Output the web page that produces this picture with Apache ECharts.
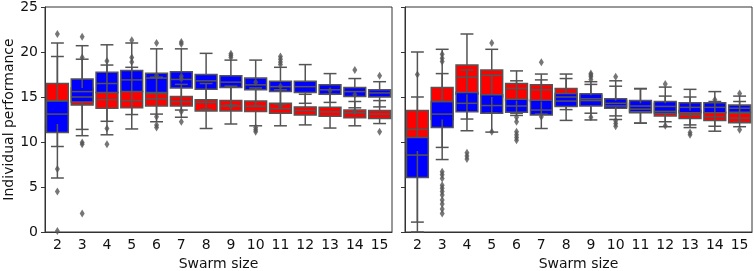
<!DOCTYPE html>
<html>
<head>
<meta charset="utf-8">
<script src="https://cdn.jsdelivr.net/npm/echarts/dist/echarts.min.js"></script>
<style>
    html, body { margin: 0; padding: 0; background: #fff; }
    #chart { width: 754px; height: 271px; }
</style>
</head>
<body>
<div id="chart"></div>
<script>
// swarm sizes on the x axis
const sizes = ['2', '3', '4', '5', '6', '7', '8', '9', '10', '11', '12', '13', '14', '15']

// boxes: [whisker low, Q1, median, Q3, whisker high]
const leftRed = [
    [9.5, 12.0, 14.6, 16.5, 21.0],
    [11.4, 14.1, 15.0, 16.0, 19.2],
    [10.8, 13.75, 14.7, 15.5, 18.55],
    [11.45, 13.8, 14.6, 15.6, 18.3],
    [12.25, 14.0, 14.8, 15.4, 17.2],
    [12.75, 14.0, 14.5, 15.05, 16.4],
    [11.5, 13.45, 14.4, 14.7, 16.5],
    [12.0, 13.45, 14.0, 14.6, 16.2],
    [11.8, 13.4, 13.95, 14.55, 16.0],
    [11.8, 13.2, 13.7, 14.3, 15.8],
    [11.9, 13.0, 13.5, 13.9, 15.3],
    [11.55, 12.85, 13.35, 13.85, 15.3],
    [11.8, 12.7, 13.25, 13.55, 14.5],
    [12.05, 12.6, 13.1, 13.5, 14.6]
]
const leftBlue = [
    [6.0, 11.05, 13.1, 14.55, 19.5],
    [10.7, 14.45, 15.6, 17.0, 20.7],
    [12.3, 15.5, 16.5, 17.75, 20.8],
    [13.05, 15.6, 16.9, 17.95, 21.0],
    [13.1, 15.5, 17.1, 17.65, 20.35],
    [13.55, 16.0, 16.95, 17.8, 20.35],
    [13.6, 15.85, 16.8, 17.5, 19.85],
    [14.1, 16.05, 16.65, 17.35, 19.1],
    [14.0, 15.8, 16.35, 17.1, 19.1],
    [14.2, 15.6, 16.15, 16.75, 18.3],
    [14.3, 15.5, 16.15, 16.75, 18.6],
    [14.4, 15.3, 15.8, 16.35, 17.6],
    [13.8, 15.05, 15.6, 16.05, 17.05],
    [13.9, 15.0, 15.45, 15.8, 16.7]
]
const rightRed = [
    [1.1, 9.0, 11.4, 13.5, 20.0],
    [9.4, 12.5, 14.5, 16.05, 20.3],
    [12.55, 15.3, 17.2, 18.55, 22.0],
    [13.2, 15.0, 17.4, 18.0, 20.3],
    [13.2, 14.6, 15.95, 16.5, 17.9],
    [13.1, 14.5, 15.8, 16.35, 17.55],
    [12.4, 14.0, 15.0, 15.95, 17.55],
    [13.2, 14.1, 14.6, 15.2, 16.4],
    [12.9, 13.9, 14.0, 14.6, 16.2],
    [12.1, 13.25, 13.65, 14.3, 15.9],
    [11.7, 12.9, 13.4, 14.3, 16.1],
    [11.6, 12.6, 13.0, 13.5, 15.0],
    [11.2, 12.4, 12.8, 13.3, 14.5],
    [11.7, 12.15, 12.65, 13.2, 14.5]
]
const rightBlue = [
    [0.0, 6.05, 8.55, 10.5, 15.0],
    [8.05, 11.6, 13.1, 14.5, 17.6],
    [11.25, 13.35, 14.3, 15.5, 18.0],
    [11.1, 13.2, 14.05, 15.25, 17.4],
    [12.95, 13.3, 14.0, 14.75, 16.8],
    [11.5, 13.0, 13.55, 14.65, 16.9],
    [13.6, 13.95, 14.55, 15.4, 17.05],
    [12.45, 14.0, 14.8, 15.35, 16.7],
    [12.5, 13.75, 14.3, 14.8, 16.8],
    [12.1, 13.35, 14.0, 14.6, 15.95],
    [12.25, 13.2, 13.95, 14.5, 15.1],
    [11.9, 13.25, 13.85, 14.35, 15.85],
    [11.75, 13.25, 13.85, 14.35, 15.6],
    [12.2, 13.3, 13.75, 14.1, 15.1]
]

// outliers: [swarm size, value]
const leftOutliers = [
    ['2', 22.0], ['2', 7.0], ['2', 4.5], ['2', 0.1],
    ['3', 21.7], ['3', 19.4], ['3', 9.95], ['3', 9.75], ['3', 2.05],
    ['4', 19.0], ['4', 11.5], ['4', 9.75],
    ['5', 21.3], ['5', 19.4], ['5', 18.9],
    ['6', 21.0], ['6', 17.4], ['6', 12.8], ['6', 11.9], ['6', 11.6],
    ['7', 21.1], ['7', 20.9], ['7', 17.3], ['7', 17.0], ['7', 13.4], ['7', 12.25],
    ['9', 19.8], ['9', 19.6], ['9', 19.4], ['9', 13.95],
    ['10', 16.65], ['10', 11.6], ['10', 11.35], ['10', 11.15],
    ['11', 19.5], ['11', 19.2], ['11', 18.9], ['11', 18.6], ['11', 16.2], ['11', 14.0],
    ['13', 15.7],
    ['14', 18.0], ['14', 15.25], ['14', 13.4],
    ['15', 17.35], ['15', 11.15]
]
const rightOutliers = [
    ['2', 17.5],
    ['3', 19.75], ['3', 19.3], ['3', 18.95], ['3', 6.7], ['3', 6.35], ['3', 5.95], ['3', 5.2],
    ['3', 4.85], ['3', 4.5], ['3', 4.1], ['3', 3.55], ['3', 3.1], ['3', 2.55], ['3', 2.05],
    ['4', 8.8], ['4', 8.45], ['4', 8.1],
    ['5', 21.0], ['5', 11.15],
    ['6', 12.75], ['6', 12.25], ['6', 11.15], ['6', 10.8], ['6', 10.5], ['6', 10.2],
    ['7', 18.85], ['7', 12.8],
    ['9', 17.6], ['9', 17.45], ['9', 17.25], ['9', 16.95], ['9', 12.75],
    ['10', 17.25], ['10', 12.35], ['10', 12.05], ['10', 11.75],
    ['12', 16.45], ['12', 11.8],
    ['13', 11.05], ['13', 10.8],
    ['14', 14.7],
    ['15', 15.4], ['15', 11.35]
]

const yTicks = { min: 0, max: 25, interval: 5 }

const GREY = '#545454'
const RED = '#ff0000'
const BLUE = '#0000ff'
const FONT = 'DejaVu Sans'

const toRows = (boxes) => boxes.map((b, i) => [i, ...b])

const boxShape = (fill) => (params, api) => {
    const i = api.value(0)
    const top = api.coord([i, api.value(4)])
    const bottom = api.coord([i, api.value(2)])
    const w = api.size([1, 0])[0] * 0.88
    return {
        type: 'rect',
        shape: { x: top[0] - w / 2, y: top[1], width: w, height: bottom[1] - top[1] },
        style: { fill: fill, stroke: GREY, lineWidth: 1.5 }
    }
}

const boxLines = (params, api) => {
    const i = api.value(0)
    const band = api.size([1, 0])[0]
    const half = band * 0.44
    const cap = band * 0.26
    const lo = api.coord([i, api.value(1)])
    const q1 = api.coord([i, api.value(2)])
    const med = api.coord([i, api.value(3)])
    const q3 = api.coord([i, api.value(4)])
    const hi = api.coord([i, api.value(5)])
    const x = lo[0]
    const line = (x1, y1, x2, y2) => ({
        type: 'line',
        shape: { x1, y1, x2, y2 },
        style: { stroke: GREY, lineWidth: 1.5 }
    })
    return {
        type: 'group',
        children: [
            line(x, q1[1], x, lo[1]),
            line(x, q3[1], x, hi[1]),
            line(x - cap, lo[1], x + cap, lo[1]),
            line(x - cap, hi[1], x + cap, hi[1]),
            line(x - half, med[1], x + half, med[1])
        ]
    }
}

const boxSeries = (boxes, fill, idx, z) => ({
    type: 'custom',
    xAxisIndex: idx,
    yAxisIndex: idx,
    z: z,
    renderItem: boxShape(fill),
    encode: { x: 0, y: [1, 2, 3, 4, 5] },
    data: toRows(boxes),
    silent: true
})

const lineSeries = (boxes, idx, z) => ({
    type: 'custom',
    xAxisIndex: idx,
    yAxisIndex: idx,
    z: z,
    renderItem: boxLines,
    encode: { x: 0, y: [1, 2, 3, 4, 5] },
    data: toRows(boxes),
    silent: true
})

const flierSeries = (points, idx) => ({
    type: 'scatter',
    xAxisIndex: idx,
    yAxisIndex: idx,
    z: 10,
    symbol: 'path://M0,-1L0.6,0L0,1L-0.6,0Z',
    symbolSize: [5, 8],
    itemStyle: { color: GREY },
    data: points.map(p => [sizes.indexOf(p[0]), p[1]]),
    silent: true
})

const xAxisFor = (idx) => ({
    type: 'category',
    gridIndex: idx,
    data: sizes,
    boundaryGap: true,
    axisLine: { lineStyle: { color: '#333', width: 1 } },
    axisTick: { alignWithLabel: true, length: 4, lineStyle: { color: '#333' } },
    axisLabel: { fontSize: 14, color: '#111', margin: 6, fontFamily: FONT, interval: 0 },
    name: 'Swarm size',
    nameLocation: 'middle',
    nameGap: 25,
    nameTextStyle: { fontSize: 14, color: '#111', fontFamily: FONT }
})

const yAxisFor = (idx, labelled) => ({
    type: 'value',
    gridIndex: idx,
    min: yTicks.min,
    max: yTicks.max,
    interval: yTicks.interval,
    splitLine: { show: false },
    axisLine: { show: true, lineStyle: { color: '#333', width: 1 } },
    axisTick: { show: true, length: 4, lineStyle: { color: '#333' } },
    axisLabel: { show: labelled, fontSize: 14, color: '#111', margin: 7, fontFamily: FONT },
    name: labelled ? 'Individual performance' : '',
    nameLocation: 'middle',
    nameGap: 29,
    nameTextStyle: { fontSize: 14, color: '#111', fontFamily: FONT }
})

const gridAt = (left) => ({
    left: left,
    top: 7,
    width: 347,
    height: 225,
    containLabel: false,
    outerBoundsMode: 'none',
    show: true,
    borderColor: '#333',
    borderWidth: 1,
    backgroundColor: 'transparent'
})

const chart = echarts.init(document.getElementById('chart'), null, { renderer: 'canvas' })

chart.setOption({
    animation: false,
    textStyle: { fontFamily: FONT },
    grid: [gridAt(45), gridAt(405)],
    xAxis: [xAxisFor(0), xAxisFor(1)],
    yAxis: [yAxisFor(0, true), yAxisFor(1, false)],
    series: [
        boxSeries(leftRed, RED, 0, 1),
        boxSeries(leftBlue, BLUE, 0, 2),
        lineSeries(leftRed, 0, 3),
        lineSeries(leftBlue, 0, 4),
        flierSeries(leftOutliers, 0),
        boxSeries(rightRed, RED, 1, 1),
        boxSeries(rightBlue, BLUE, 1, 2),
        lineSeries(rightRed, 1, 3),
        lineSeries(rightBlue, 1, 4),
        flierSeries(rightOutliers, 1)
    ]
})
</script>
</body>
</html>
